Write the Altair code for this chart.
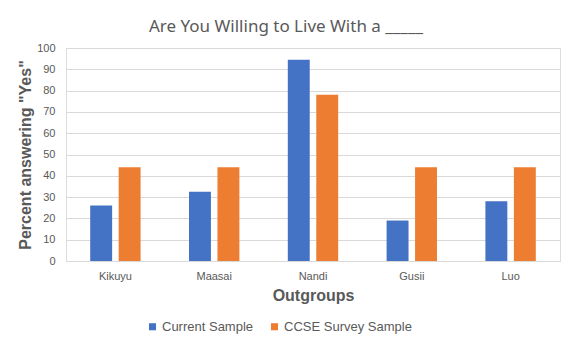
import altair as alt
import pandas as pd

groups = ["Kikuyu", "Maasai", "Nandi", "Gusii", "Luo"]
current = [26, 32.5, 94.5, 19, 28]
ccse = [44, 44, 78, 44, 44]
series = ["Current Sample", "CCSE Survey Sample"]
colors = ["#4472C4", "#ED7D31"]

rows = []
for g, c, s in zip(groups, current, ccse):
    rows.append({"group": g, "series": series[0], "value": c})
    rows.append({"group": g, "series": series[1], "value": s})
df = pd.DataFrame(rows)

gray = "#595959"

chart = alt.Chart(df).mark_bar().encode(
    x=alt.X("group:N", sort=groups, title="Outgroups",
            scale=alt.Scale(paddingInner=0.49, paddingOuter=0.245),
            axis=alt.Axis(labelAngle=0, labelFont="Liberation Sans", labelFontSize=11,
                          labelColor=gray, labelPadding=9, ticks=False,
                          domainColor="#d9d9d9", titleFont="Liberation Sans",
                          titleFontSize=16, titleFontWeight="bold", titleColor=gray,
                          titlePadding=6)),
    xOffset=alt.XOffset("series:N", sort=series,
                        scale=alt.Scale(paddingInner=0.23, paddingOuter=0)),
    y=alt.Y("value:Q", title='Percent answering "Yes"',
            scale=alt.Scale(domain=[0, 100]),
            axis=alt.Axis(values=list(range(0, 101, 10)), labelFont="Liberation Sans",
                          labelFontSize=11, labelColor=gray, labelPadding=11,
                          ticks=False, domain=False, gridColor="#d9d9d9",
                          titleFont="Liberation Sans", titleFontSize=16,
                          titleFontWeight="bold", titleColor=gray, titlePadding=3)),
    color=alt.Color("series:N", sort=series,
                    scale=alt.Scale(domain=series, range=colors),
                    legend=alt.Legend(title=None, orient="none", direction="horizontal",
                                      legendX=80, legendY=272, symbolType="square",
                                      symbolSize=50, symbolStrokeWidth=0,
                                      labelFont="Liberation Sans", labelFontSize=13,
                                      labelColor=gray, columnPadding=14,
                                      labelOffset=3)),
).properties(
    width=494, height=213,
    title=alt.TitleParams("Are You Willing to Live With a _____", font="Noto Sans",
                          fontSize=17, fontWeight="normal", color=gray,
                          anchor="middle", dx=-27, offset=6),
    autosize=alt.AutoSizeParams(type="none"),
    padding={"left": 66, "top": 48, "right": 15, "bottom": 94},
).configure_view(stroke=None).configure(background="white")

chart.save("out.html", embed_options={"renderer": "svg", "actions": False})
